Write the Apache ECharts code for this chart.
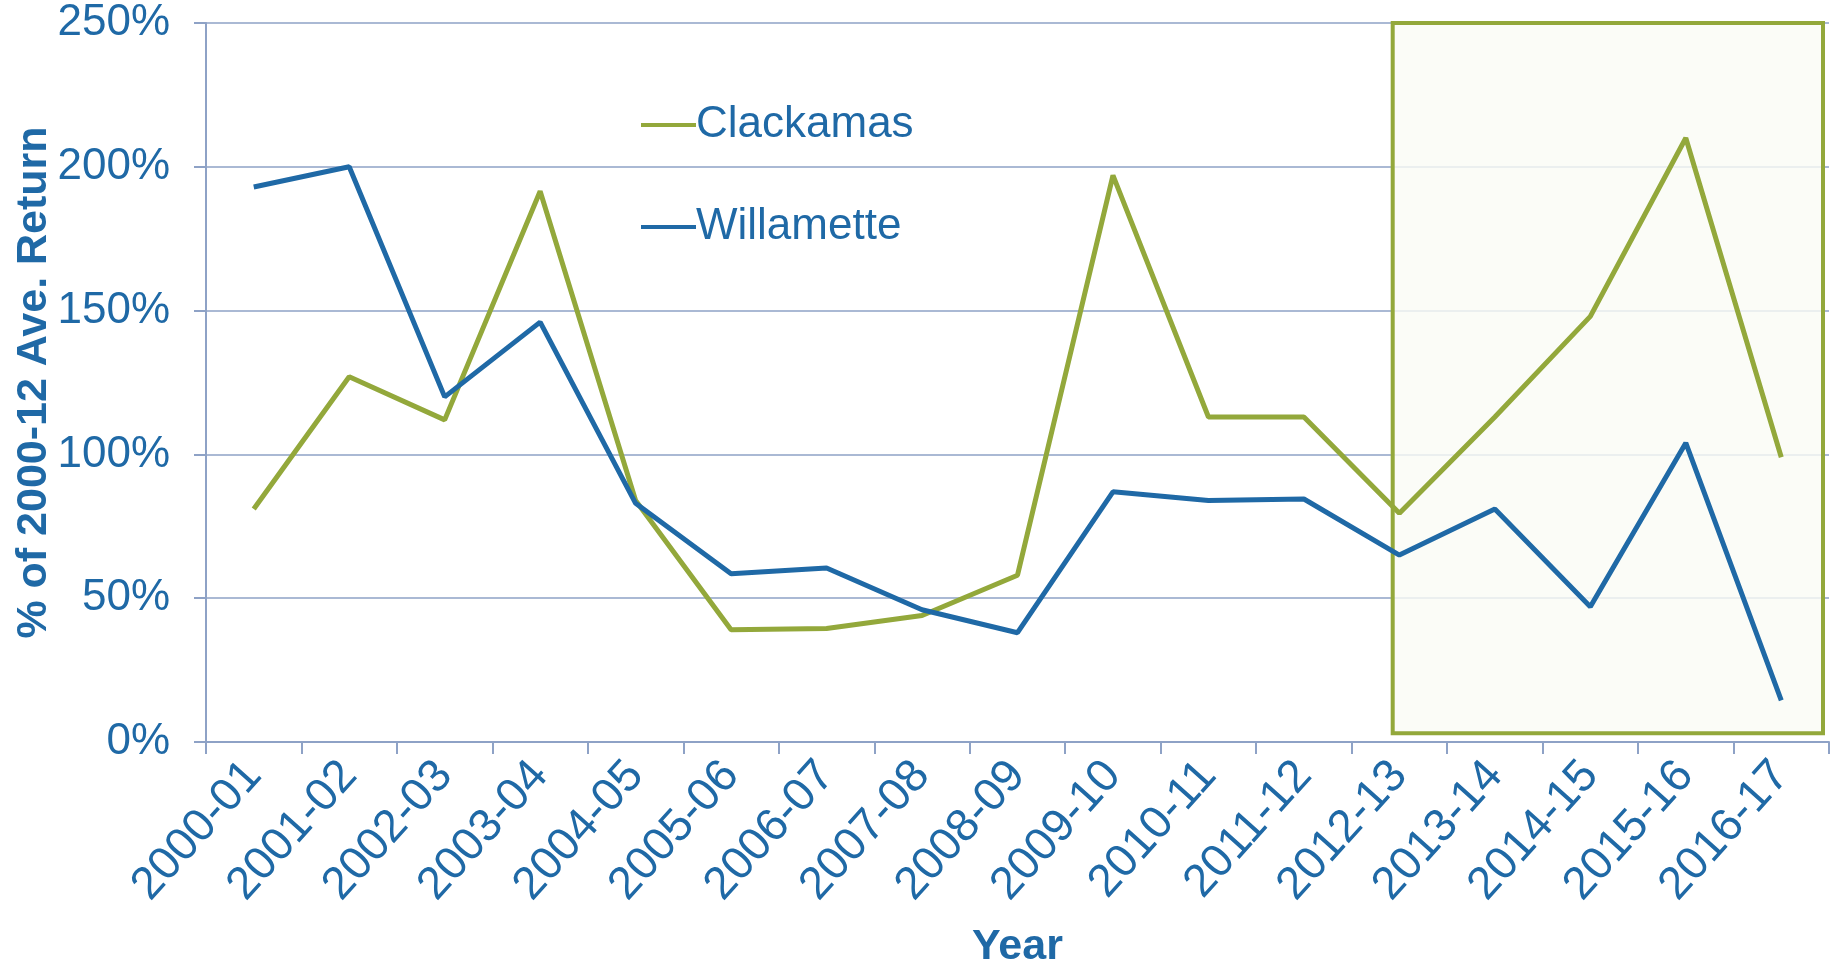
<!DOCTYPE html>
<html>
<head>
<meta charset="utf-8">
<script src="https://cdn.jsdelivr.net/npm/echarts@6/dist/echarts.min.js"></script>
<style>
  html, body { margin: 0; padding: 0; background: #fff; }
  #chart { width: 1830px; height: 965px; }
</style>
</head>
<body>
<div id="chart"></div>
<script>
const years = ['2000-01', '2001-02', '2002-03', '2003-04', '2004-05', '2005-06', '2006-07', '2007-08', '2008-09',
  '2009-10', '2010-11', '2011-12', '2012-13', '2013-14', '2014-15', '2015-16', '2016-17']
const clackamas = [81, 127, 112, 191.5, 84, 39, 39.5, 44, 58, 197, 113, 113, 79.5, 113, 148, 210, 99]
const willamette = [193, 200, 120, 146, 83, 58.5, 60.5, 46, 38, 87, 84, 84.5, 65, 81, 47, 104, 14.5]
// forecast years shown in the shaded box
const boxFrom = '2012-13'

const blue = '#1f69a6'
const green = '#93a83b'
const gridColor = '#8ea2c6'
const font = 'Liberation Sans, Arial, sans-serif'

const chart = echarts.init(document.getElementById('chart'))

chart.setOption({
  animation: false,
  textStyle: { fontFamily: font },
  grid: { left: 206, right: 1, top: 23, bottom: 223, outerBoundsMode: 'none', containLabel: false },
  legend: {
    orient: 'vertical',
    left: 636,
    top: 98,
    itemGap: 58,
    icon: 'rect',
    itemWidth: 55,
    itemHeight: 4,
    textStyle: { color: blue, fontSize: 44, fontFamily: font, padding: [0, 0, 0, -5] },
    data: ['Clackamas', 'Willamette'],
  },
  xAxis: {
    type: 'category',
    data: years,
    boundaryGap: true,
    name: 'Year',
    nameLocation: 'middle',
    nameGap: 184,
    nameTextStyle: { color: blue, fontSize: 43, fontWeight: 'bold', fontFamily: font },
    axisLine: { lineStyle: { color: gridColor, width: 2 } },
    axisTick: { show: true, length: 12, lineStyle: { color: gridColor, width: 2 } },
    axisLabel: { color: blue, fontSize: 46, rotate: 48, margin: 26, interval: 0, fontFamily: font },
    splitLine: { show: false },
  },
  yAxis: {
    type: 'value',
    min: 0,
    max: 250,
    interval: 50,
    name: '% of 2000-12 Ave. Return',
    nameLocation: 'middle',
    nameGap: 150,
    nameMoveOverlap: false,
    nameTextStyle: { color: blue, fontSize: 43, fontWeight: 'bold', fontFamily: font },
    axisLine: { show: true, lineStyle: { color: gridColor, width: 2 } },
    axisTick: { show: true, length: 12, lineStyle: { color: gridColor, width: 2 } },
    axisLabel: { color: blue, fontSize: 44, margin: 36, formatter: '{value}%', fontFamily: font },
    splitLine: { lineStyle: { color: gridColor, width: 1.5 } },
  },
  series: [
    {
      name: 'Clackamas',
      type: 'line',
      data: clackamas,
      symbol: 'none',
      z: 5,
      lineStyle: { color: green, width: 5 },
      itemStyle: { color: green },
    },
    {
      name: 'Willamette',
      type: 'line',
      data: willamette,
      symbol: 'none',
      z: 5,
      lineStyle: { color: blue, width: 5 },
      itemStyle: { color: blue },
    },
  ],
})

// shaded box over the later years, placed with the chart's own axes
function drawBox() {
  const idx = years.indexOf(boxFrom)
  const c0 = chart.convertToPixel({ xAxisIndex: 0 }, idx)
  const c1 = chart.convertToPixel({ xAxisIndex: 0 }, idx + 1)
  const band = c1 - c0
  const x0 = c0 - band * 0.07
  const x1 = chart.getWidth() - 7
  const y0 = chart.convertToPixel({ yAxisIndex: 0 }, 250)
  const y1 = chart.convertToPixel({ yAxisIndex: 0 }, 3)
  chart.setOption({
    graphic: [{
      type: 'rect',
      z: 1,
      shape: { x: x0, y: y0, width: x1 - x0, height: y1 - y0 },
      style: { fill: 'rgba(250,251,245,0.82)', stroke: green, lineWidth: 4 },
    }],
  })
}
drawBox()
</script>
</body>
</html>
